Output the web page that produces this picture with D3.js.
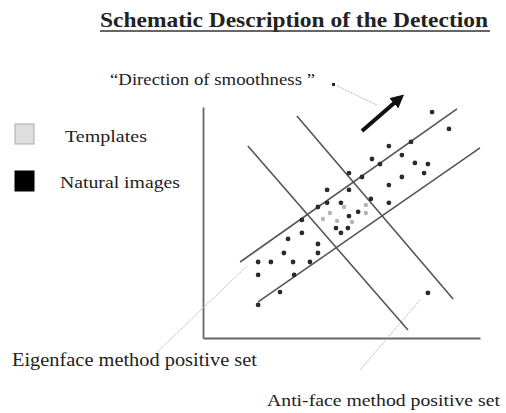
<!DOCTYPE html>
<html>
<head>
<meta charset="utf-8">
<script src="https://d3js.org/d3.v7.min.js"></script>
<style>
    body { margin: 0; background: #fff; }
    text { font-family: "Liberation Serif", "Times New Roman", serif; fill: #222; }
    .title { font-weight: bold; }
    .boundary { stroke: #555; stroke-width: 1.6px; }
    .leader { stroke: #bbb; stroke-width: 1px; stroke-dasharray: 2 1; }
    .axis .domain { stroke: #666; stroke-width: 1.8px; }
</style>
</head>
<body>
<svg id="chart" width="506" height="413"></svg>
<script>
    // data space is 0..100 on both axes (no ticks shown)
    const naturalPts = [
        [82.7, 97.8], [88.8, 90.5], [67.1, 83.1], [75.1, 84.9], [61.0, 77.5],
        [71.8, 79.2], [63.9, 75.3], [76.5, 75.8], [81.2, 75.3], [79.8, 71.4],
        [52.7, 71.4], [57.4, 69.7], [71.8, 69.7], [67.1, 66.2], [52.7, 64.1],
        [44.8, 64.1], [41.5, 56.7], [44.8, 58.5], [49.8, 58.5], [60.6, 60.2],
        [67.1, 58.5], [35.7, 51.1], [52.7, 52.8], [56.0, 54.6], [52.3, 47.6],
        [48.0, 47.6], [49.8, 45.5], [35.7, 45.5], [30.7, 42.9], [41.5, 40.7],
        [41.5, 36.8], [29.2, 36.8], [19.9, 32.9], [24.5, 32.9], [32.5, 32.9],
        [38.6, 32.9], [19.9, 27.3], [32.9, 27.3], [27.8, 19.9], [19.9, 14.3],
        [81.2, 19.5]
    ];
    const templatePts = [
        [45.8, 54.1], [48.4, 50.7], [53.8, 50.2], [58.8, 54.1],
        [50.9, 56.7], [58.8, 57.6], [43.3, 51.5]
    ];
    // eigenface band (two parallel lines) and anti-face band
    const boundaries = [
        [[13.4, 32.9], [91.7, 99.2]],
        [[19.9, 15.6], [100, 82.3]],
        [[16.2, 83.1], [74.0, 3.5]],
        [[33.9, 96.1], [90.3, 16.9]]
    ];
    const smoothArrow = [[57.4, 89.6], [71.1, 103.9]];
    const legendItems = ["Templates", "Natural images"];

    const svg = d3.select("#chart");

    const x = d3.scaleLinear().domain([0, 100]).range([203, 480]);
    const y = d3.scaleLinear().domain([0, 100]).range([338, 107]);

    // title
    svg.append("text")
        .attr("class", "title")
        .attr("x", 100).attr("y", 27)
        .attr("font-size", 21)
        .attr("textLength", 388).attr("lengthAdjust", "spacingAndGlyphs")
        .text("Schematic Description of the Detection");
    svg.append("line")
        .attr("x1", 100).attr("x2", 490)
        .attr("y1", 31).attr("y2", 31)
        .attr("stroke", "#333").attr("stroke-width", 1.5);

    // axes without ticks
    svg.append("g").attr("class", "axis")
        .attr("transform", `translate(${x(0)},0)`)
        .call(d3.axisLeft(y).tickValues([]).tickSizeOuter(0));
    svg.append("g").attr("class", "axis")
        .attr("transform", `translate(0,${y(0)})`)
        .call(d3.axisBottom(x).tickValues([]).tickSizeOuter(0));

    // leader lines
    const leaders = [
        [[337, 86], [377, 105]],
        [[155, 354], [247, 266]],
        [[360, 370], [420, 300]]
    ];
    svg.selectAll("line.leader").data(leaders)
        .join("line").attr("class", "leader")
        .attr("x1", d => d[0][0]).attr("y1", d => d[0][1])
        .attr("x2", d => d[1][0]).attr("y2", d => d[1][1]);

    // boundary lines
    svg.selectAll("line.boundary").data(boundaries)
        .join("line").attr("class", "boundary")
        .attr("x1", d => x(d[0][0])).attr("y1", d => y(d[0][1]))
        .attr("x2", d => x(d[1][0])).attr("y2", d => y(d[1][1]));

    // points
    svg.selectAll("circle.tpl").data(templatePts)
        .join("circle").attr("class", "tpl")
        .attr("cx", d => x(d[0])).attr("cy", d => y(d[1]))
        .attr("r", 2.2).attr("fill", "#b5b5b5");
    svg.selectAll("circle.nat").data(naturalPts)
        .join("circle").attr("class", "nat")
        .attr("cx", d => x(d[0])).attr("cy", d => y(d[1]))
        .attr("r", 2.4).attr("fill", "#2a2a2a");

    // direction arrow
    svg.append("defs").append("marker")
        .attr("id", "head")
        .attr("viewBox", "0 0 10 10")
        .attr("refX", 6).attr("refY", 5)
        .attr("markerWidth", 3.4).attr("markerHeight", 3.4)
        .attr("orient", "auto")
        .append("path").attr("d", "M0,0 L10,5 L0,10 Z").attr("fill", "#111");
    svg.append("line")
        .attr("x1", x(smoothArrow[0][0])).attr("y1", y(smoothArrow[0][1]))
        .attr("x2", x(smoothArrow[1][0])).attr("y2", y(smoothArrow[1][1]))
        .attr("stroke", "#111").attr("stroke-width", 4)
        .attr("marker-end", "url(#head)");

    svg.append("text")
        .attr("x", 110).attr("y", 85)
        .attr("font-size", 17)
        .attr("textLength", 205).attr("lengthAdjust", "spacingAndGlyphs")
        .text("\u201CDirection of smoothness \u201D");
    svg.append("rect")
        .attr("x", 332).attr("y", 83).attr("width", 3).attr("height", 3)
        .attr("fill", "#222");

    // legend
    const legend = svg.selectAll("g.legend").data(legendItems)
        .join("g").attr("class", "legend")
        .attr("transform", (d, i) => `translate(15,${124 + i * 47})`);
    legend.append("rect")
        .attr("width", 19).attr("height", 20)
        .attr("fill", (d, i) => i === 0 ? "#dedede" : "#000")
        .attr("stroke", (d, i) => i === 0 ? "#aaa" : "#000");
    legend.append("text")
        .attr("x", (d, i) => i === 0 ? 50 : 45)
        .attr("y", (d, i) => i === 0 ? 18 : 17)
        .attr("font-size", 16)
        .attr("textLength", (d, i) => i === 0 ? 82 : 120)
        .attr("lengthAdjust", "spacingAndGlyphs")
        .text(d => d);

    // bottom labels
    svg.append("text")
        .attr("x", 12).attr("y", 366)
        .attr("font-size", 18)
        .attr("textLength", 245).attr("lengthAdjust", "spacingAndGlyphs")
        .text("Eigenface method positive set");
    svg.append("text")
        .attr("x", 267).attr("y", 406)
        .attr("font-size", 17)
        .attr("textLength", 233).attr("lengthAdjust", "spacingAndGlyphs")
        .text("Anti-face method positive set");
</script>
</body>
</html>
